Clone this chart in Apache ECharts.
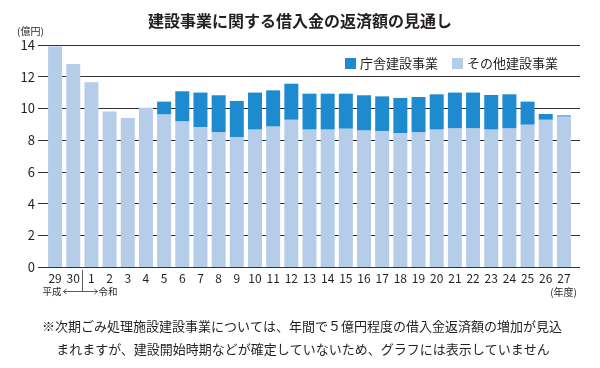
<!DOCTYPE html>
<html>
<head>
<meta charset="utf-8">
<script src="https://cdn.jsdelivr.net/npm/echarts@6/dist/echarts.min.js"></script>
<style>
html,body{margin:0;padding:0;background:#fff;}
#c{width:600px;height:368px;}
</style>
</head>
<body>
<div id="c"></div>
<script>
const categories = ['29','30','1','2','3','4','5','6','7','8','9','10','11','12','13','14','15','16','17','18','19','20','21','22','23','24','25','26','27'];
const otherConstruction = [13.9,12.8,11.65,9.8,9.4,10.05,9.63,9.2,8.83,8.51,8.2,8.68,8.87,9.29,8.68,8.68,8.73,8.62,8.58,8.45,8.51,8.68,8.76,8.76,8.68,8.76,8.98,9.29,9.5];
const officeConstruction = [0,0,0,0,0,0,0.8,1.88,2.17,2.32,2.27,2.32,2.27,2.27,2.25,2.25,2.2,2.21,2.18,2.21,2.21,2.21,2.24,2.24,2.17,2.13,1.45,0.36,0.06];
const yTicks = {min:0, max:14, interval:2};
const seriesNames = ['庁舎建設事業','その他建設事業'];

const FONT = '"Noto Sans CJK JP", "Noto Sans", sans-serif';
const TXT = '#231f20';
const DARK = '#1e8ad0';
const LIGHT = '#b5cde9';

const chart = echarts.init(document.getElementById('c'), null, {renderer:'canvas'});
const option = {
  animation:false,
  backgroundColor:'#fff',
  textStyle:{fontFamily:FONT, color:TXT},
  title:{text:'建設事業に関する借入金の返済額の見通し', left:'center', top:8,
    textStyle:{fontSize:16, fontWeight:'bold', color:TXT, fontFamily:FONT}},
  legend:{data:seriesNames, right:37, top:52, icon:'rect', itemWidth:11, itemHeight:11, itemGap:14,
    textStyle:{fontSize:13, color:TXT, fontFamily:FONT, padding:[0,0,0,-1]}},
  grid:[
    {left:38, right:20, top:45, height:222},
    {left:46, right:27, top:45, height:222}
  ],
  xAxis:[
    {gridIndex:0, type:'category', data:categories, show:false},
    {gridIndex:1, type:'category', data:categories,
      axisLine:{show:false}, axisTick:{show:false},
      axisLabel:{fontSize:12, color:TXT, margin:5, fontFamily:FONT, interval:0}}
  ],
  yAxis:[
    {gridIndex:0, type:'value', min:yTicks.min, max:yTicks.max, interval:yTicks.interval,
      axisLine:{show:false}, axisTick:{show:false},
      axisLabel:{fontSize:13, color:TXT, margin:3, fontFamily:FONT},
      splitLine:{show:true, lineStyle:{color:'#333', width:1}}},
    {gridIndex:1, type:'value', min:yTicks.min, max:yTicks.max, interval:yTicks.interval, show:false,
      splitLine:{show:false}}
  ],
  series:[
    {name:seriesNames[1], type:'bar', stack:'t', xAxisIndex:1, yAxisIndex:1,
      data:otherConstruction, barCategoryGap:'23%', itemStyle:{color:LIGHT}},
    {name:seriesNames[0], type:'bar', stack:'t', xAxisIndex:1, yAxisIndex:1,
      data:officeConstruction, barCategoryGap:'23%', itemStyle:{color:DARK}}
  ]
};
chart.setOption(option);

// era separator between '30' and '1'
const pA = chart.convertToPixel({xAxisIndex:1}, '30');
const pB = chart.convertToPixel({xAxisIndex:1}, '1');
const sx = Math.round((pA + pB) / 2) + 0.5;
const ay = 291.5;
const lineStyle = {stroke:'#333', lineWidth:0.8};
chart.setOption({
  graphic:[
    {type:'text', left:17, top:26, style:{text:'(億円)', font:'10px '+FONT, fill:TXT}},
    {type:'line', shape:{x1:sx, y1:270, x2:sx, y2:ay}, style:lineStyle},
    {type:'line', shape:{x1:sx-19, y1:ay, x2:sx+15, y2:ay}, style:lineStyle},
    {type:'polyline', shape:{points:[[sx-16,ay-2.5],[sx-19,ay],[sx-16,ay+2.5]]}, style:{stroke:'#333', lineWidth:0.8, fill:null}},
    {type:'polyline', shape:{points:[[sx+12,ay-2.5],[sx+15,ay],[sx+12,ay+2.5]]}, style:{stroke:'#333', lineWidth:0.8, fill:null}},
    {type:'text', x:sx-21, y:ay, style:{text:'平成', font:'9.5px '+FONT, fill:TXT, textAlign:'right', textVerticalAlign:'middle'}},
    {type:'text', x:sx+16, y:ay, style:{text:'令和', font:'9.5px '+FONT, fill:TXT, textAlign:'left', textVerticalAlign:'middle'}},
    {type:'text', x:577, y:292, style:{text:'(年度)', font:'10px '+FONT, fill:TXT, textAlign:'right', textVerticalAlign:'middle'}},
    {type:'text', x:302, y:326, style:{text:'※次期ごみ処理施設建設事業については、年間で５億円程度の借入金返済額の増加が見込', font:'13px '+FONT, fill:TXT, textAlign:'center', textVerticalAlign:'middle'}},
    {type:'text', x:303, y:349, style:{text:'まれますが、建設開始時期などが確定していないため、グラフには表示していません', font:'13px '+FONT, fill:TXT, textAlign:'center', textVerticalAlign:'middle'}}
  ]
});
</script>
</body>
</html>
